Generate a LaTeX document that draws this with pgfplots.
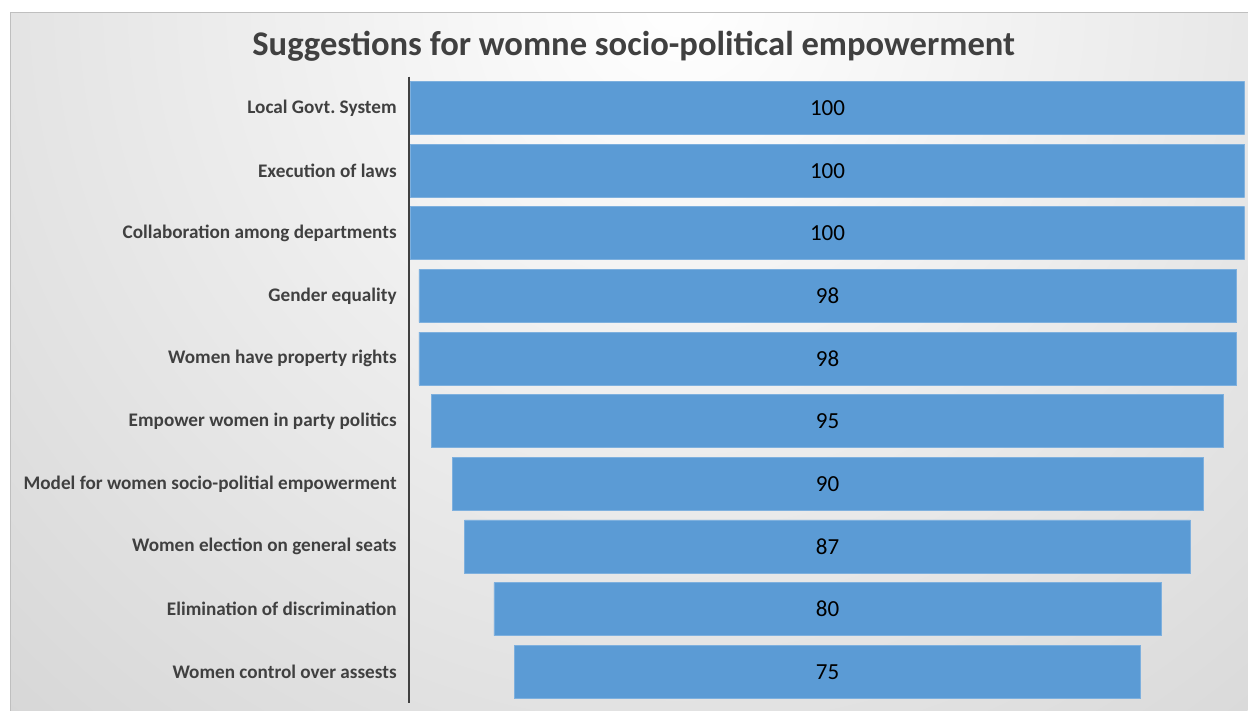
\documentclass[border=0pt]{standalone}
\usepackage{pgfplots}
\pgfplotsset{compat=1.18}
\usepackage{fontspec}
\setmainfont{Carlito}
\frenchspacing
\definecolor{barblue}{HTML}{5B9BD5}
\definecolor{baredge}{HTML}{7EB0DE}
\definecolor{txtgray}{HTML}{404040}
\definecolor{bggray}{HTML}{C4C4C4}
\definecolor{axgray}{HTML}{404040}
\begin{document}
\begin{tikzpicture}[x=1pt,y=1pt]
\fill[white] (0,0) rectangle (1248,711);
\begin{scope}
\clip (11,0) rectangle (1248,698);
\shade[inner color=white, outer color=bggray] (680,711) circle (1450);
\end{scope}
\draw[line width=1pt, color=black!25] (11,0) -- (11,698) -- (1248,698);
\node[anchor=base, text=txtgray, font=\fontsize{34.6}{40}\selectfont\bfseries] at (634,655) {Suggestions for womne socio-political empowerment};
\begin{axis}[
  at={(409pt,7.7pt)}, anchor=south west, scale only axis,
  width=836pt, height=626.6pt,
  xbar stacked, bar width=53pt, axis on top,
  xmin=-0.2, xmax=100, ymin=0.5, ymax=10.5, y dir=reverse,
  hide x axis, axis y line*=left,
  y axis line style={line width=2.6pt, color=axgray},
  ytick={1,...,10}, major tick length=0pt,
  yticklabels={Local Govt.\ System, Execution of laws, Collaboration among departments, Gender equality, Women have property rights, Empower women in party politics, Model for women socio-politial empowerment, Women election on general seats, Elimination of discrimination, Women control over assests},
  yticklabel style={font=\fontsize{19.2}{22}\selectfont\bfseries, text=txtgray, inner sep=0pt, xshift=-12pt},
]
\addplot[draw=none, fill=none] coordinates {(0,1) (0,2) (0,3) (1,4) (1,5) (2.5,6) (5,7) (6.5,8) (10,9) (12.5,10)};
\addplot[draw=baredge, line width=0.6pt, fill=barblue] coordinates {(100,1) (100,2) (100,3) (98,4) (98,5) (95,6) (90,7) (87,8) (80,9) (75,10)};
\end{axis}
\begin{axis}[
  at={(409pt,7.7pt)}, anchor=south west, scale only axis,
  width=836pt, height=626.6pt,
  xmin=-0.2, xmax=100, ymin=0.5, ymax=10.5, y dir=reverse,
  hide axis,
]
\addplot[draw=none, mark=none, nodes near coords, point meta=explicit symbolic,
  every node near coord/.style={anchor=center, font=\fontsize{23}{27}\selectfont, text=black}]
  coordinates {(50,1)[100] (50,2)[100] (50,3)[100] (50,4)[98] (50,5)[98] (50,6)[95] (50,7)[90] (50,8)[87] (50,9)[80] (50,10)[75]};
\end{axis}
\end{tikzpicture}
\end{document}
